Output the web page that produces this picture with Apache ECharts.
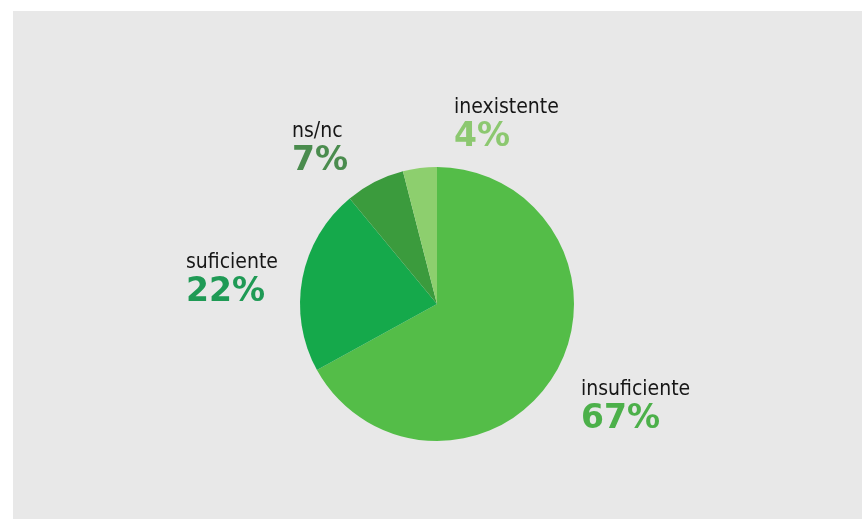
<!DOCTYPE html>
<html>
<head>
<meta charset="utf-8">
<script src="https://cdn.jsdelivr.net/npm/echarts@6/dist/echarts.min.js"></script>
<style>
html,body{margin:0;padding:0;background:#ffffff;}
#chart{width:862px;height:519px;}
</style>
</head>
<body>
<div id="chart"></div>
<script>
// data
const categories = ['insuficiente', 'suficiente', 'ns/nc', 'inexistente'];
const values = [67, 22, 7, 4];

// styles
const sliceColors = ['#54bd48', '#15a94b', '#3b9b3d', '#8dcf6e'];
const percentColors = ['#4cb04a', '#1f9a55', '#4a8c4e', '#8cc870'];
// label anchors (top-left of each label block)
const labelAnchors = [[581, 377], [186, 250], [292, 119], [454, 95]];

const chart = echarts.init(document.getElementById('chart'), null, {renderer: 'canvas'});
const nameFont = '"DejaVu Sans Condensed", sans-serif';
const pctFont = '"DejaVu Sans", sans-serif';

chart.setOption({
  backgroundColor: '#ffffff',
  animation: false,
  graphic: [{
    type: 'rect', z: -10, silent: true,
    shape: {x: 13, y: 11, width: 862, height: 519},
    style: {fill: '#e8e8e8'}
  }],
  series: [{
    type: 'pie',
    center: [437, 304],
    radius: [0, 137],
    startAngle: 90,
    clockwise: true,
    avoidLabelOverlap: false,
    labelLine: {show: false},
    itemStyle: {borderWidth: 0},
    data: categories.map((c, i) => ({
      name: c,
      value: values[i],
      itemStyle: {color: sliceColors[i]},
      label: {
        rich: {
          n: {fontFamily: nameFont, fontSize: 21, fontWeight: 'normal', color: '#161616', lineHeight: 26},
          p: {fontFamily: pctFont, fontSize: 33, fontWeight: 'bold', color: percentColors[i], lineHeight: 33}
        }
      }
    })),
    label: {
      show: true,
      position: 'outside',
      formatter: p => '{n|' + p.name + '}\n{p|' + p.value + '%}',
      align: 'left'
    },
    labelLayout: params => ({
      x: labelAnchors[params.dataIndex][0],
      y: labelAnchors[params.dataIndex][1],
      align: 'left',
      verticalAlign: 'top'
    })
  }]
});
</script>
</body>
</html>
